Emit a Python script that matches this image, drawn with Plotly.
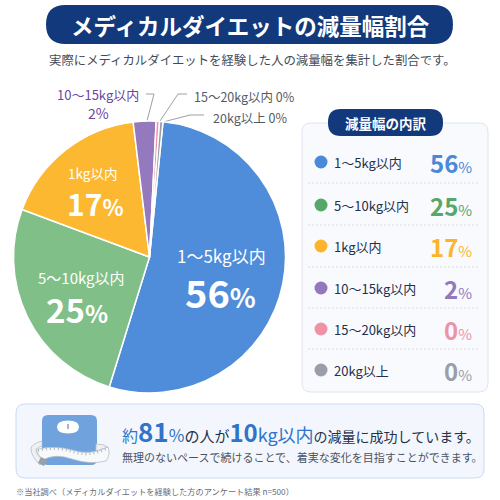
import plotly.graph_objects as go

FONT = "Noto Sans CJK JP"

# Data
categories = ["1〜5kg以内", "5〜10kg以内", "1kg以内", "10〜15kg以内", "15〜20kg以内", "20kg以上"]
shown_percent = [56, 25, 17, 2, 0, 0]
# Slice sizes as drawn in the picture (they differ slightly from the printed percentages)
drawn_share = [53.2, 25.9, 17.4, 2.7, 0.4, 0.4]
pie_colors = ["#4f8cd9", "#80c088", "#fdb831", "#9479bf", "#ee93a6", "#9a9ea8"]
list_colors = ["#4a88d8", "#57a868", "#fdb42b", "#9478bd", "#ee93a6", "#9a9ea8"]
title_text = "メディカルダイエットの減量幅割合"
subtitle_text = "実際にメディカルダイエットを経験した人の減量幅を集計した割合です。"
panel_title = "減量幅の内訳"
footnote = "※当社調べ（メディカルダイエットを経験した方のアンケート結果 n=500）"
summary_2 = "無理のないペースで続けることで、着実な変化を目指すことができます。"

NAVY = "#12397c"
DARK = "#25304a"
W = H = 500


def rrect(x0, y0, x1, y1, r):
    return (f"M{x0+r},{y0} L{x1-r},{y0} Q{x1},{y0} {x1},{y0+r} L{x1},{y1-r} Q{x1},{y1} {x1-r},{y1} "
            f"L{x0+r},{y1} Q{x0},{y1} {x0},{y1-r} L{x0},{y0+r} Q{x0},{y0} {x0+r},{y0} Z")


shapes = []
ann = []


def path(d, fill="rgba(0,0,0,0)", line=None, w=1, dash=None, layer="below"):
    shapes.append(dict(type="path", path=d, fillcolor=fill, layer=layer, xref="x", yref="y",
                       line=dict(color=line or "rgba(0,0,0,0)", width=w if line else 0, dash=dash or "solid")))


def text(x, y, t, size, color=DARK, anchor="center", bold=False):
    ann.append(dict(x=x, y=y, xref="x", yref="y", text=f"<b>{t}</b>" if bold else t, showarrow=False,
                    xanchor=anchor, yanchor="middle", align=anchor, borderpad=0,
                    font=dict(family=FONT, size=size, color=color)))


def big(t, size):
    return f'<span style="font-size:{size}px">{t}</span>'


# Header
path(rrect(46, 5, 453, 44, 19.5), fill=NAVY)
text(250, 24.5, title_text, 22.5, "#ffffff", bold=True)
text(252, 60, subtitle_text, 12.4, "#444b58")

# Outer labels and leader lines
text(97.5, 94, categories[3], 13, "#6d45a3")
text(98.5, 113, f"{shown_percent[3]}%", 14, "#6d45a3")
text(193, 96, f"{categories[4]} {shown_percent[4]}%", 12.5, "#555b66", anchor="left")
text(212, 117, f"{categories[5]} {shown_percent[5]}%", 12.5, "#555b66", anchor="left")
path("M147,121 L154,94 L146,94", line="#9aa0aa", w=1)
path("M160,121 L178,94 L187,94", line="#9aa0aa", w=1)
path("M163,122 L190,115 L204,115", line="#9aa0aa", w=1)

# Pie labels
text(221, 255, categories[0], 17, "#ffffff")
text(220, 291, big(f"{shown_percent[0]}", 38) + big("%", 27), 38, "#ffffff", bold=True)
text(81, 277, categories[1], 15, "#ffffff")
text(77, 308.5, big(f"{shown_percent[1]}", 33) + big("%", 24), 33, "#ffffff", bold=True)
text(92, 172.5, categories[2], 13.5, "#ffffff")
text(95, 202.5, big(f"{shown_percent[2]}", 30) + big("%", 22), 30, "#ffffff", bold=True)

# Breakdown panel
path(rrect(302, 123, 488, 392, 9), fill="#f9fafe", line="#dfe4ee", w=1)
path(rrect(328, 109, 443, 136, 13), fill=NAVY)
text(385.5, 122.5, panel_title, 13.5, "#ffffff", bold=True)
row_y = [162, 205, 246, 288, 329, 370]
for y in [183, 225, 267, 308, 349]:
    path(f"M308,{y} L478,{y}", line="#d8dce5", w=1, dash="2px,2px")
for y, cat, pct, col in zip(row_y, categories, shown_percent, list_colors):
    text(333, y, cat, 13, DARK, anchor="left")
    text(472.5, y, big(f"{pct}", 24) + f'<span style="font-size:15px;font-weight:400">%</span>', 24, col,
         anchor="right", bold=True)

# Summary box
path(rrect(16, 404, 484, 478, 9), fill="#f3f7fd", line="#c8dcf4", w=1)

# Scale icon
path(rrect(42, 415, 97, 465, 6), fill="#70a3dd")
path("M57,427 Q57,420.5 68,420.5 Q79,420.5 79,427 Q79,433.5 68,433.5 Q57,433.5 57,427 Z", fill="#ffffff")
path("M68,424 L68,429", line="#5a6a80", w=1)
path("M96,444 Q104,444 108,447 L96,451 Z", fill="#eef0f4", line="#b8bec8", w=0.8)
path("M42,441 Q31,444 31,449 Q31,456 40,465 L44,461 Q36,455 36,449.5 Q38,447 42,446 Z",
     fill="#eef0f4", line="#b8bec8", w=0.8)
path("M36,449.5 Q55,445 72,450 Q90,456 108,447 Q111,454 106,461 Q90,465 72,459 Q55,453 43,460 Q38,455 36,449.5 Z",
     fill="#f8f9fb", line="#b8bec8", w=0.8)
path("M38,450.5 Q55,446.5 72,451.5 Q90,457.5 107,448.5", line="#aeb4be", w=2.5, dash="1px,3px")
path("M41,457 L47,460 L44,466 L38,463 Z", fill="#9aa0aa")

blue = "#2f74c8"
line1 = (f'<span style="color:{blue};font-size:16px">約</span>'
         f'<span style="color:{blue};font-size:26px"><b>81</b></span>'
         f'<span style="color:{blue};font-size:17px">%</span>'
         '<span style="font-size:15px">の人が</span>'
         f'<span style="color:{blue};font-size:24px"><b>10</b></span>'
         f'<span style="color:{blue};font-size:18px">kg以内</span>'
         'の減量に成功しています。')
text(120.5, 430, line1, 14, DARK, anchor="left")
text(120.5, 457, summary_2, 11, "#4a5262", anchor="left")
text(15, 491, footnote, 8.2, "#666c78", anchor="left")

# Pie: centre (149.5, 257), radius 136
cx, cy, r = 149.5, 257, 136
pie = go.Pie(labels=categories, values=drawn_share, sort=False, direction="clockwise", rotation=5.7,
             marker=dict(colors=pie_colors, line=dict(color="#ffffff", width=1.5)),
             textinfo="none", hoverinfo="label", showlegend=False,
             domain=dict(x=[(cx - r) / W, (cx + r) / W], y=[1 - (cy + r) / H, 1 - (cy - r) / H]))
# legend dots through the categories
dots = go.Scatter(x=[321] * 6, y=row_y, mode="markers", hoverinfo="skip", showlegend=False,
                  marker=dict(size=13, color=list_colors, line=dict(width=0)))

fig = go.Figure([pie, dots])
fig.update_layout(
    width=W, height=H, margin=dict(l=0, r=0, t=0, b=0), paper_bgcolor="#ffffff", plot_bgcolor="rgba(0,0,0,0)",
    xaxis=dict(range=[0, W], visible=False, fixedrange=True),
    yaxis=dict(range=[H, 0], visible=False, fixedrange=True),
    shapes=shapes, annotations=ann, font=dict(family=FONT),
)
fig.write_html("out.html", config=dict(displayModeBar=False),
               post_script="document.body.style.margin='0';")
